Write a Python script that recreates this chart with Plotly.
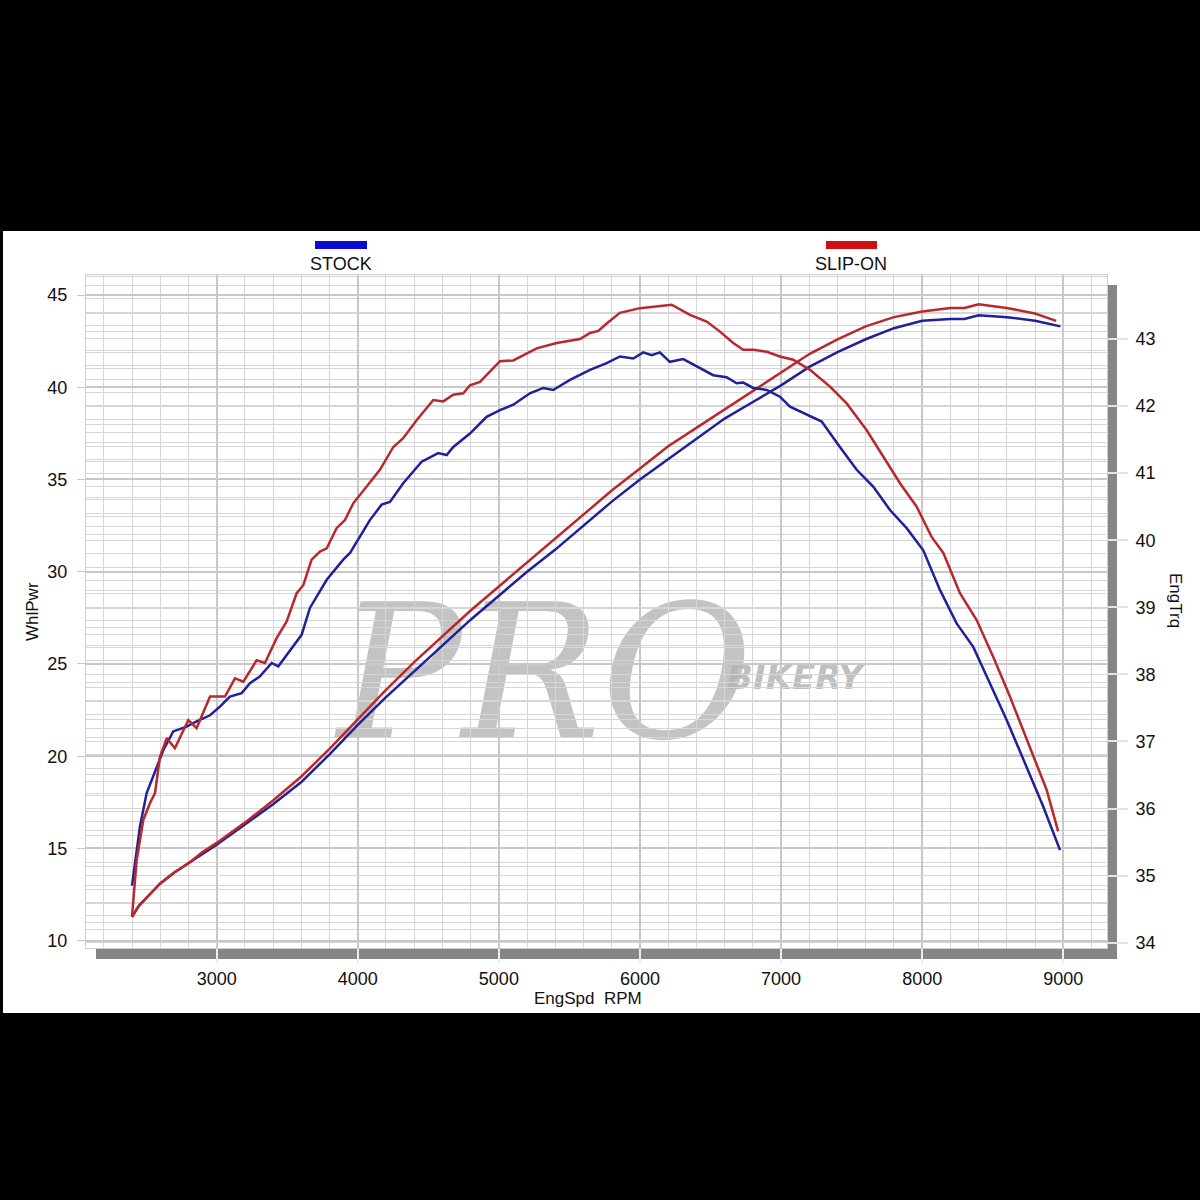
import plotly.graph_objects as go

# ---------------- data ----------------
series_names = ["STOCK", "SLIP-ON"]

rpm_stock_pwr = [2400, 2450, 2500, 2600, 2700, 2800, 2900, 3000, 3200, 3400, 3600, 3800, 4000,
                 4200, 4400, 4600, 4800, 5000, 5200, 5400, 5600, 5800, 6000, 6200, 6400, 6600,
                 6800, 7000, 7200, 7400, 7600, 7800, 8000, 8200, 8300, 8400, 8600, 8800, 8980]
stock_pwr = [11.3, 11.9, 12.3, 13.1, 13.7, 14.2, 14.7, 15.2, 16.3, 17.4, 18.6, 20.1, 21.7,
             23.2, 24.6, 26.0, 27.4, 28.7, 30.0, 31.2, 32.5, 33.8, 35.0, 36.1, 37.2, 38.3,
             39.2, 40.1, 41.1, 41.9, 42.6, 43.2, 43.6, 43.7, 43.7, 43.9, 43.8, 43.6, 43.3]

rpm_slip_pwr = [2400, 2450, 2500, 2600, 2700, 2800, 2900, 3000, 3200, 3400, 3600, 3800, 4000,
                4200, 4400, 4600, 4800, 5000, 5200, 5400, 5600, 5800, 6000, 6200, 6400, 6600,
                6800, 7000, 7200, 7400, 7600, 7800, 8000, 8200, 8300, 8400, 8600, 8800, 8950]
slip_pwr = [11.3, 11.9, 12.3, 13.1, 13.7, 14.2, 14.8, 15.3, 16.4, 17.6, 18.9, 20.4, 22.0,
            23.6, 25.1, 26.5, 27.9, 29.2, 30.5, 31.8, 33.1, 34.4, 35.6, 36.8, 37.8, 38.8,
            39.8, 40.8, 41.8, 42.6, 43.3, 43.8, 44.1, 44.3, 44.3, 44.5, 44.3, 44.0, 43.6]

rpm_stock_trq = [2400, 2456, 2504, 2575, 2622, 2692, 2787, 2858, 2953, 3023, 3094, 3177, 3236,
                 3307, 3390, 3437, 3519, 3602, 3661, 3780, 3897, 3945, 4086, 4169, 4228, 4322,
                 4453, 4570, 4630, 4677, 4795, 4913, 5008, 5102, 5220, 5315, 5385, 5504, 5646,
                 5764, 5858, 5953, 6023, 6083, 6141, 6212, 6307, 6402, 6519, 6614, 6685, 6732,
                 6803, 6898, 6992, 7063, 7181, 7288, 7417, 7536, 7653, 7772, 7890, 8008, 8126,
                 8244, 8362, 8480, 8599, 8740, 8858, 8977]
stock_trq = [34.85, 35.73, 36.23, 36.62, 36.87, 37.15, 37.22, 37.30, 37.39, 37.52, 37.67, 37.72,
             37.87, 37.97, 38.17, 38.12, 38.36, 38.59, 38.99, 39.41, 39.71, 39.81, 40.30, 40.53,
             40.57, 40.85, 41.17, 41.30, 41.27, 41.39, 41.59, 41.84, 41.94, 42.02, 42.19, 42.27,
             42.24, 42.39, 42.54, 42.64, 42.74, 42.71, 42.80, 42.76, 42.80, 42.66, 42.70, 42.59,
             42.46, 42.43, 42.34, 42.35, 42.27, 42.24, 42.14, 41.99, 41.87, 41.77, 41.39, 41.05,
             40.80, 40.45, 40.18, 39.85, 39.26, 38.76, 38.41, 37.87, 37.32, 36.62, 36.03, 35.38]

rpm_slip_trq = [2400, 2433, 2480, 2527, 2563, 2598, 2646, 2704, 2799, 2858, 2953, 3059, 3130,
                3189, 3283, 3342, 3425, 3496, 3567, 3614, 3673, 3732, 3780, 3850, 3909, 3968,
                4063, 4157, 4252, 4322, 4417, 4535, 4606, 4677, 4748, 4795, 4866, 5008, 5102,
                5268, 5410, 5575, 5646, 5705, 5764, 5858, 6000, 6189, 6225, 6354, 6473, 6567,
                6661, 6732, 6803, 6898, 6992, 7086, 7205, 7347, 7465, 7607, 7724, 7843, 7961,
                8067, 8150, 8268, 8386, 8504, 8622, 8764, 8882, 8964]
slip_trq = [34.39, 35.23, 35.83, 36.08, 36.23, 36.77, 37.05, 36.90, 37.32, 37.20, 37.67, 37.67,
            37.94, 37.89, 38.21, 38.17, 38.54, 38.79, 39.21, 39.33, 39.71, 39.83, 39.88, 40.18,
            40.30, 40.55, 40.80, 41.05, 41.39, 41.52, 41.79, 42.09, 42.07, 42.17, 42.19, 42.31,
            42.36, 42.67, 42.68, 42.86, 42.94, 43.00, 43.09, 43.12, 43.23, 43.39, 43.46, 43.51,
            43.51, 43.36, 43.26, 43.11, 42.94, 42.84, 42.84, 42.81, 42.74, 42.69, 42.54, 42.29,
            42.04, 41.64, 41.25, 40.85, 40.50, 40.05, 39.81, 39.21, 38.81, 38.26, 37.67, 36.92,
            36.28, 35.66]

x_ticks = [3000, 4000, 5000, 6000, 7000, 8000, 9000]
pwr_ticks = [10, 15, 20, 25, 30, 35, 40, 45]
trq_ticks = [34, 35, 36, 37, 38, 39, 40, 41, 42, 43]

# ---------------- styling ----------------
BLUE = "#20209a"
RED = "#b8282c"
LEG_BLUE = "#0a0ad0"
LEG_RED = "#d01010"
FONT = "Liberation Sans, Arial, sans-serif"

W, H = 1200, 1200
L, R, T, B = 86, 93, 275, 252
PW, PH = W - L - R, H - T - B


def fx(px):
    return (px - L) / PW


def fy(py):
    return (H - B - py) / PH


fig = go.Figure()
fig.add_trace(go.Scatter(x=rpm_stock_pwr, y=stock_pwr, mode="lines", name=series_names[0] + " WhlPwr",
                         line=dict(color=BLUE, width=2.5), yaxis="y"))
fig.add_trace(go.Scatter(x=rpm_slip_pwr, y=slip_pwr, mode="lines", name=series_names[1] + " WhlPwr",
                         line=dict(color=RED, width=2.5), yaxis="y"))
fig.add_trace(go.Scatter(x=rpm_stock_trq, y=stock_trq, mode="lines", name=series_names[0] + " EngTrq",
                         line=dict(color=BLUE, width=2.5), yaxis="y2"))
fig.add_trace(go.Scatter(x=rpm_slip_trq, y=slip_trq, mode="lines", name=series_names[1] + " EngTrq",
                         line=dict(color=RED, width=2.5), yaxis="y2"))

shapes = [
    # white panel on black page
    dict(type="rect", xref="paper", yref="paper", x0=fx(3), x1=fx(1200), y0=fy(1013), y1=fy(231),
         fillcolor="white", line=dict(width=0), layer="below"),
    # 3D shadow bars
    dict(type="rect", xref="paper", yref="paper", x0=fx(96), x1=fx(1117), y0=fy(959), y1=fy(948),
         fillcolor="#858585", line=dict(width=0), layer="below"),
    dict(type="rect", xref="paper", yref="paper", x0=fx(1107), x1=fx(1117), y0=fy(959), y1=fy(285),
         fillcolor="#858585", line=dict(width=0), layer="below"),
    # legend swatches
    dict(type="rect", xref="paper", yref="paper", x0=fx(315), x1=fx(367), y0=fy(249), y1=fy(241),
         fillcolor=LEG_BLUE, line=dict(width=0)),
    dict(type="rect", xref="paper", yref="paper", x0=fx(826), x1=fx(877), y0=fy(249), y1=fy(241),
         fillcolor=LEG_RED, line=dict(width=0)),
    # watermark (between grid and traces)
    dict(type="rect", xref="paper", yref="paper", x0=fx(330), x1=fx(760), y0=fy(750), y1=fy(570),
         fillcolor="rgba(0,0,0,0)", line=dict(width=0), layer="between",
         label=dict(text="PRO", textposition="middle center",
                    font=dict(family="DejaVu Serif", size=185, color="rgba(170,170,170,0.7)",
                              style="italic", weight="normal"))),
    dict(type="rect", xref="paper", yref="paper", x0=fx(700), x1=fx(890), y0=fy(695), y1=fy(655),
         fillcolor="rgba(0,0,0,0)", line=dict(width=0), layer="between",
         label=dict(text="BIKERY", textposition="middle center",
                    font=dict(family="DejaVu Sans", size=34, color="rgba(180,180,180,0.85)",
                              style="italic", weight="bold"))),
]

annotations = [
    dict(text="STOCK", x=fx(341), y=fy(264), xref="paper", yref="paper", showarrow=False,
         xanchor="center", yanchor="middle", font=dict(family=FONT, size=18, color="#111")),
    dict(text="SLIP-ON", x=fx(851), y=fy(264), xref="paper", yref="paper", showarrow=False,
         xanchor="center", yanchor="middle", font=dict(family=FONT, size=18, color="#111")),
    dict(text="WhlPwr", x=fx(32), y=fy(612), xref="paper", yref="paper", showarrow=False,
         textangle=-90, xanchor="center", yanchor="middle", font=dict(family=FONT, size=17, color="#111")),
    dict(text="EngTrq", x=fx(1176), y=fy(600), xref="paper", yref="paper", showarrow=False,
         textangle=90, xanchor="center", yanchor="middle", font=dict(family=FONT, size=17, color="#111")),
    dict(text="EngSpd\u00a0 RPM", x=fx(588), y=fy(998), xref="paper", yref="paper", showarrow=False,
         xanchor="center", yanchor="middle", font=dict(family=FONT, size=17, color="#111")),
]

grid_major = "#c8c8c8"
grid_minor = "#d6d6d6"

fig.update_layout(
    width=W, height=H,
    margin=dict(l=L, r=R, t=T, b=B, pad=0),
    paper_bgcolor="black",
    plot_bgcolor="white",
    showlegend=False,
    shapes=shapes,
    annotations=annotations,
    font=dict(family=FONT, size=18, color="#111"),
    xaxis=dict(
        range=[2074, 9310], tickvals=x_ticks, ticks="outside", ticklen=14, tickwidth=2,
        tickcolor="#ececec", showgrid=True, gridcolor=grid_major, gridwidth=2,
        minor=dict(dtick=200, tick0=0, showgrid=True, gridcolor=grid_minor, gridwidth=1),
        showline=True, linecolor="#cfcfcf", linewidth=1, mirror=True, zeroline=False,
        tickfont=dict(family=FONT, size=18, color="#111"), ticklabelstandoff=0,
    ),
    yaxis=dict(
        range=[9.604, 46.084], tickvals=pwr_ticks, ticks="outside", ticklen=8, tickwidth=1,
        tickcolor="#c8c8c8", showgrid=True, gridcolor=grid_major, gridwidth=2,
        minor=dict(dtick=1, tick0=0, showgrid=True, gridcolor=grid_minor, gridwidth=1),
        showline=True, linecolor="#cfcfcf", linewidth=1, mirror=True, zeroline=False,
        tickfont=dict(family=FONT, size=18, color="#111"), ticklabelstandoff=6,
    ),
    yaxis2=dict(
        range=[33.921, 43.954], tickvals=trq_ticks, overlaying="y", side="right",
        ticks="outside", ticklen=20, tickwidth=2, tickcolor="#e4e4e4",
        showgrid=True, gridcolor=grid_minor, gridwidth=1,
        minor=dict(dtick=0.2, tick0=0, showgrid=True, gridcolor=grid_minor, gridwidth=1),
        showline=False, zeroline=False,
        tickfont=dict(family=FONT, size=18, color="#111"), ticklabelstandoff=4,
    ),
)

fig.write_html(
    "out.html",
    config={"displayModeBar": False},
    post_script="document.body.style.margin='0';document.body.style.background='black';",
)
